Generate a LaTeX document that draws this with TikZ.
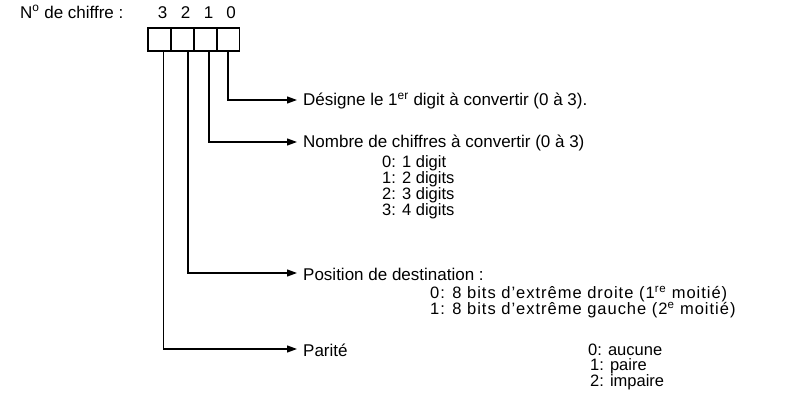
\documentclass[tikz,border=0pt]{standalone}
\usepackage{fontspec}
\setmainfont{Liberation Sans}
\usetikzlibrary{arrows.meta}
\begin{document}
\begin{tikzpicture}[x=1pt,y=-1pt,
  txt/.style={anchor=west,inner sep=0pt,font=\fontsize{17}{19}\selectfont},
  sub/.style={txt,font=\fontsize{16.5}{18}\selectfont},
  bx/.style={draw,line width=1.2pt,minimum width=23pt,minimum height=23pt,inner sep=0pt},
  ar/.style={line width=1.2pt,-{Triangle[length=10pt,width=7pt]}}]
\useasboundingbox (0,0) rectangle (812,412);
\node[txt] (lab) at (20,12) {N\textsuperscript{o} de chiffre :};
\foreach \i/\d/\x in {3/3/159.5,2/2/182.5,1/1/205.5,0/0/228} {
  \node[bx] (b\i) at (\x,39.5) {};
  \node[txt,anchor=center] (n\i) at (\x+3,13) {\d};
}
\node[txt] (t0) at (303,101) {Désigne le 1\textsuperscript{er} digit à convertir (0 à 3).};
\node[txt] (t1) at (303,143) {Nombre de chiffres à convertir (0 à 3)};
\node[sub] (t1a) at (382,163) {0: 1 digit};
\node[sub] (t1b) at (382,179) {1: 2 digits};
\node[sub] (t1c) at (382,195) {2: 3 digits};
\node[sub] (t1d) at (382,211) {3: 4 digits};
\node[txt] (t2) at (303,274) {Position de destination :};
\node[sub,font=\fontsize{16.5}{18}\addfontfeature{LetterSpace=6}] (t2a) at (430,294) {0: 8 bits d'extrême droite (1\textsuperscript{re} moitié)};
\node[sub,font=\fontsize{16.5}{18}\addfontfeature{LetterSpace=6}] (t2b) at (430,310) {1: 8 bits d'extrême gauche (2\textsuperscript{e} moitié)};
\node[txt] (t3) at (303,350) {Parité};
\node[sub] (t3a) at (588,350) {0: aucune};
\node[sub] (t3b) at (590,366) {1: paire};
\node[sub] (t3c) at (590,382) {2: impaire};
\coordinate (e0) at (297,100);
\coordinate (e1) at (297,142);
\coordinate (e2) at (297,273);
\coordinate (e3) at (297,349);
\draw[ar] (b0.south) |- (e0);
\draw[ar] ([xshift=3.5pt]b1.south) |- (e1);
\draw[ar] ([xshift=5.5pt]b2.south) |- (e2);
\draw[ar] ([xshift=4pt]b3.south) |- (e3);
\end{tikzpicture}
\end{document}
